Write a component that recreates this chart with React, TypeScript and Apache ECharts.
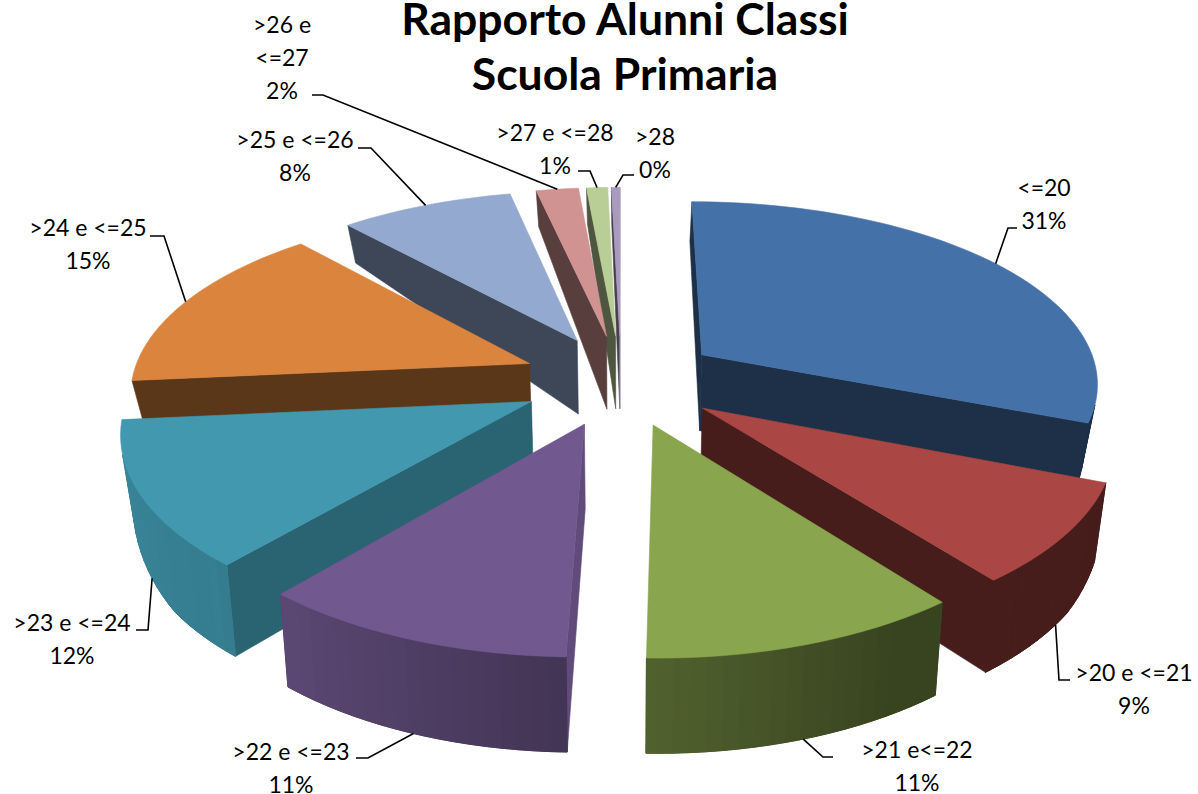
import React, { useEffect, useRef } from "react";
import * as echarts from "echarts";

const titleText = "Rapporto Alunni Classi\nScuola Primaria";
const categories = ["<=20", ">20 e <=21", ">21 e<=22", ">22 e <=23", ">23 e <=24", ">24 e <=25", ">25 e <=26", ">26 e\n<=27", ">27 e <=28", ">28"];
const values = [31.0, 8.5, 10.9, 10.8, 12.3, 14.9, 8.2, 2.0, 1.0, 0.4];

const colors = ["#4472a8", "#aa4643", "#89a54e", "#71588f", "#4198af", "#db843d", "#93a9cf", "#d19392", "#b9cd96", "#a99bbd"];

// label text centre, first-line y, elbow points of leader lines
const labelLayout: any[] = [
  { tx: 1044, ty: 187, e1: [1008, 228], e2: [1017, 228], z: 0 },
  { tx: 1134, ty: 672, e1: [1059, 680], e2: [1070, 680], z: 1 },
  { tx: 917, ty: 749, e1: [823, 757], e2: [833, 757], z: 1 },
  { tx: 291, ty: 751, e1: [368, 758], e2: [356, 758], z: 1 },
  { tx: 72, ty: 622, e1: [148, 630], e2: [136, 630], z: 1 },
  { tx: 88, ty: 227, e1: [164, 236], e2: [150, 236], z: 0 },
  { tx: 295, ty: 139, e1: [371, 148], e2: [358, 148], z: 0 },
  { tx: 282, ty: 24, e1: [323, 95], e2: [312, 95], z: 0 },
  { tx: 555, ty: 132, e1: [590, 171], e2: [578, 171], z: 0 },
  { tx: 655, ty: 136, e1: [623, 175], e2: [634, 175], z: 0 },
];

// projection of the 3D pie
const CX = 621, CY = 380, AX = 398, BY = 183, KX = 0.14, KY = 0.15, HH = 82, HA = 0.3, HC = 10, EXPLODE = 0.25;
const LABEL_FONT = "23px Lato";
const LABEL_LH = 33;

const total = values.reduce((a, b) => a + b, 0);
const starts: number[] = [];
values.reduce((acc, v, i) => { starts[i] = acc; return acc + v; }, 0);
const deg = (v: number) => (v / total) * 360;

function project(x: number, u: number, z: number): number[] {
  const sx = 1 / (1 + KX * u);
  const sy = 1 / (1 + KY * u);
  const side = Math.min(1, Math.max(0, (u + 0.7) / 0.7));
  const h = HH * (u <= 0 ? 1 - 0.13 * u : 1 - 0.45 * u) * (1 - HA * x * x * side);
  return [CX + AX * x * sx - HC * x * z, CY - BY * u * sy + h * z];
}
function shadeColor(hex: string, f: number): string {
  const n = parseInt(hex.slice(1), 16);
  const c = [(n >> 16) & 255, (n >> 8) & 255, n & 255].map((v) => Math.round(v * f));
  return `rgb(${c[0]},${c[1]},${c[2]})`;
}
function lerp(a: number, b: number, t: number) { return a + (b - a) * Math.min(1, Math.max(0, t)); }
function rimShade(t: number): number {
  if (t <= 150) return 0.41;
  if (t <= 183) return lerp(0.41, 0.6, (t - 150) / 33);
  if (t <= 225) return lerp(0.6, 0.84, (t - 183) / 42);
  return lerp(0.82, 0.9, (t - 225) / 41);
}
function wallShade(n: number): number {
  const a = ((n % 360) + 360) % 360;
  if (a <= 93) return 0.85;
  if (a <= 176) return lerp(0.85, 0.41, (a - 93) / 83);
  return 0.42;
}
function signedArea(p: number[][]): number {
  let s = 0;
  for (let i = 0; i < p.length; i++) {
    const a = p[i], b = p[(i + 1) % p.length];
    s += a[0] * b[1] - b[0] * a[1];
  }
  return s / 2;
}
const rad = (d: number) => (d * Math.PI) / 180;

function renderSlice(_: any, api: any) {
  const i = api.value(0);
  const a0 = deg(starts[i]);
  const a1 = a0 + deg(values[i]);
  const m = (a0 + a1) / 2;
  const ox = EXPLODE * Math.sin(rad(m));
  const ou = EXPLODE * Math.cos(rad(m));
  const rim = (t: number, z: number) => project(ox + Math.sin(rad(t)), ou + Math.cos(rad(t)), z);
  const apex = (z: number) => project(ox, ou, z);
  const color = colors[i];
  const children: any[] = [];
  const face = (pts: number[][], fill: string, lw = 0.6) =>
    children.push({ type: "polygon", shape: { points: pts }, style: { fill, stroke: fill, lineWidth: lw, lineJoin: "round" }, silent: true });

  const startWall = [apex(0), rim(a0, 0), rim(a0, 1), apex(1)];
  const endWall = [rim(a1, 0), apex(0), apex(1), rim(a1, 1)];
  if (signedArea(startWall) < 0) face(startWall, shadeColor(color, wallShade(a0 - 90)));
  if (signedArea(endWall) < 0) face(endWall, shadeColor(color, wallShade(a1 + 90)));

  const step = 2;
  const ts: number[] = [];
  for (let t = a0; t < a1; t += step) ts.push(t);
  ts.push(a1);
  const visible: number[] = [];
  for (let j = 0; j + 1 < ts.length; j++) {
    const q = [rim(ts[j], 0), rim(ts[j + 1], 0), rim(ts[j + 1], 1), rim(ts[j], 1)];
    if (signedArea(q) < 0) visible.push(j);
  }
  if (visible.length) {
    const lo = visible[0], hi = visible[visible.length - 1] + 1;
    const sub = ts.slice(lo, hi + 1);
    // underlay, so the joints of the shaded strips never show the page
    face(
      [...sub.map((t) => rim(t, 0)), ...sub.slice().reverse().map((t) => rim(t, 1))],
      shadeColor(color, rimShade((sub[0] + sub[sub.length - 1]) / 2)),
    );
    for (const j of visible) {
      const q = [rim(ts[j], 0), rim(ts[j + 1], 0), rim(ts[j + 1], 1), rim(ts[j], 1)];
      face(q, shadeColor(color, rimShade((ts[j] + ts[j + 1]) / 2)), 1);
    }
  }
  face([apex(0), ...ts.map((t) => rim(t, 0))], color);

  const lay = labelLayout[i];
  children.push({
    type: "polyline",
    shape: { points: [rim(m, lay.z), lay.e1, lay.e2] },
    style: { stroke: "#000", lineWidth: 1.6, fill: "none" },
    z2: 50,
    silent: true,
  });
  const lines = `${categories[i]}\n${Math.round((values[i] / total) * 100)}%`.split("\n");
  lines.forEach((line, n) =>
    children.push({
      type: "text",
      style: {
        x: lay.tx,
        y: lay.ty + n * LABEL_LH,
        text: line,
        font: LABEL_FONT,
        fill: "#000",
        align: "center",
        verticalAlign: "middle",
      },
      z2: 60,
      silent: true,
    }),
  );
  return { type: "group", children };
}

// back slices are painted first
const paintOrder = values
  .map((_, i) => i)
  .sort((p, q) => Math.cos(rad(deg(starts[q]) + deg(values[q]) / 2)) - Math.cos(rad(deg(starts[p]) + deg(values[p]) / 2)));

export default function App() {
  const ref = useRef<HTMLDivElement>(null);
  useEffect(() => {
    const chart = echarts.init(ref.current!, undefined, { renderer: "svg" });
    chart.setOption({
      animation: false,
      backgroundColor: "#fff",
      title: {
        text: titleText,
        left: 620,
        top: -15,
        textAlign: "center",
        textStyle: { fontFamily: "Lato", fontWeight: "bold", fontSize: 44.5, lineHeight: 55, color: "#000" },
      },
      series: [
        {
          type: "custom",
          coordinateSystem: "none",
          silent: true,
          renderItem: renderSlice,
          data: paintOrder.map((i) => [i, values[i]]),
        },
      ],
    });
    return () => chart.dispose();
  }, []);
  return <div ref={ref} style={{ position: "fixed", left: 0, top: 0, width: 1198, height: 794 }} />;
}
